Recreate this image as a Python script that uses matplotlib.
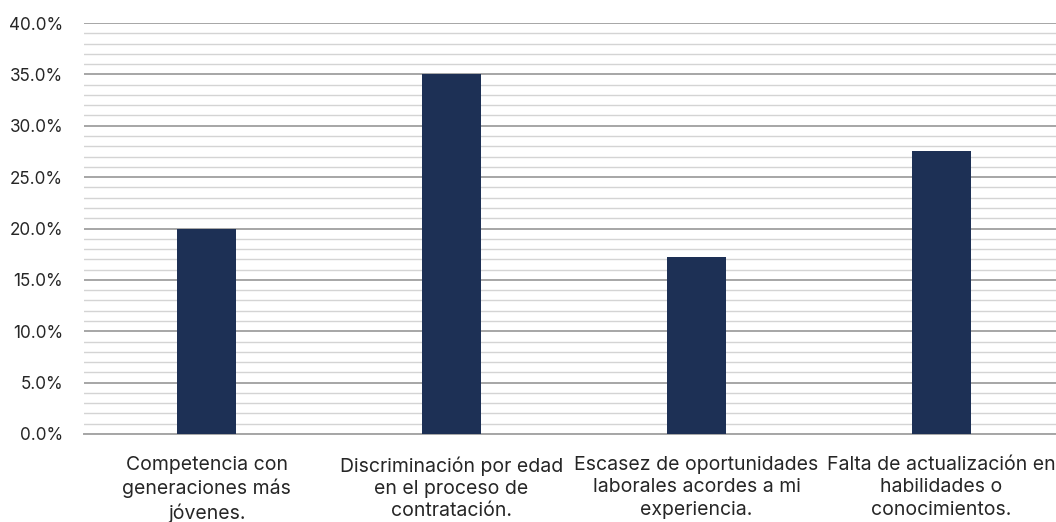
import numpy as np
import matplotlib.pyplot as plt
from matplotlib.ticker import MultipleLocator, FuncFormatter

plt.rcParams['font.family'] = ['Inter', 'DejaVu Sans']

categories = [
    "Competencia con\ngeneraciones más\njóvenes.",
    "Discriminación por edad\nen el proceso de\ncontratación.",
    "Escasez de oportunidades\nlaborales acordes a mi\nexperiencia.",
    "Falta de actualización en\nhabilidades o\nconocimientos.",
]
values = [20.0, 35.0, 17.2, 27.5]

fig = plt.figure(figsize=(10.56, 5.22), dpi=100)
# axes runs slightly past the right edge, as in the reference crop
ax = fig.add_axes([84 / 1056, 1 - 434 / 522, 980 / 1056, 411 / 522])

x = np.arange(len(categories))
ax.bar(x, values, width=0.24, color="#1d3055", zorder=3)

ax.set_xlim(-0.5, 3.5)
ax.set_ylim(0, 40)
ax.yaxis.set_major_locator(MultipleLocator(5))
ax.yaxis.set_minor_locator(MultipleLocator(1))
ax.yaxis.set_major_formatter(FuncFormatter(lambda v, p: f"{v:.1f}%"))
ax.grid(axis="y", which="major", color="#a6a6a6", linewidth=1.4, zorder=0)
ax.grid(axis="y", which="minor", color="#d4d4d4", linewidth=1.0, zorder=0)

ax.set_xticks(x)
ax.set_xticklabels(categories, fontsize=14, color="#262626", linespacing=1.3)
ax.tick_params(axis="y", which="both", length=0, labelsize=12.3, labelcolor="#262626", pad=15)
ax.tick_params(axis="x", length=0, pad=16)

for side in ["top", "right", "left"]:
    ax.spines[side].set_visible(False)
ax.spines["bottom"].set_color("#a6a6a6")
ax.spines["bottom"].set_linewidth(1.4)

fig.savefig("out.png", dpi=100)
